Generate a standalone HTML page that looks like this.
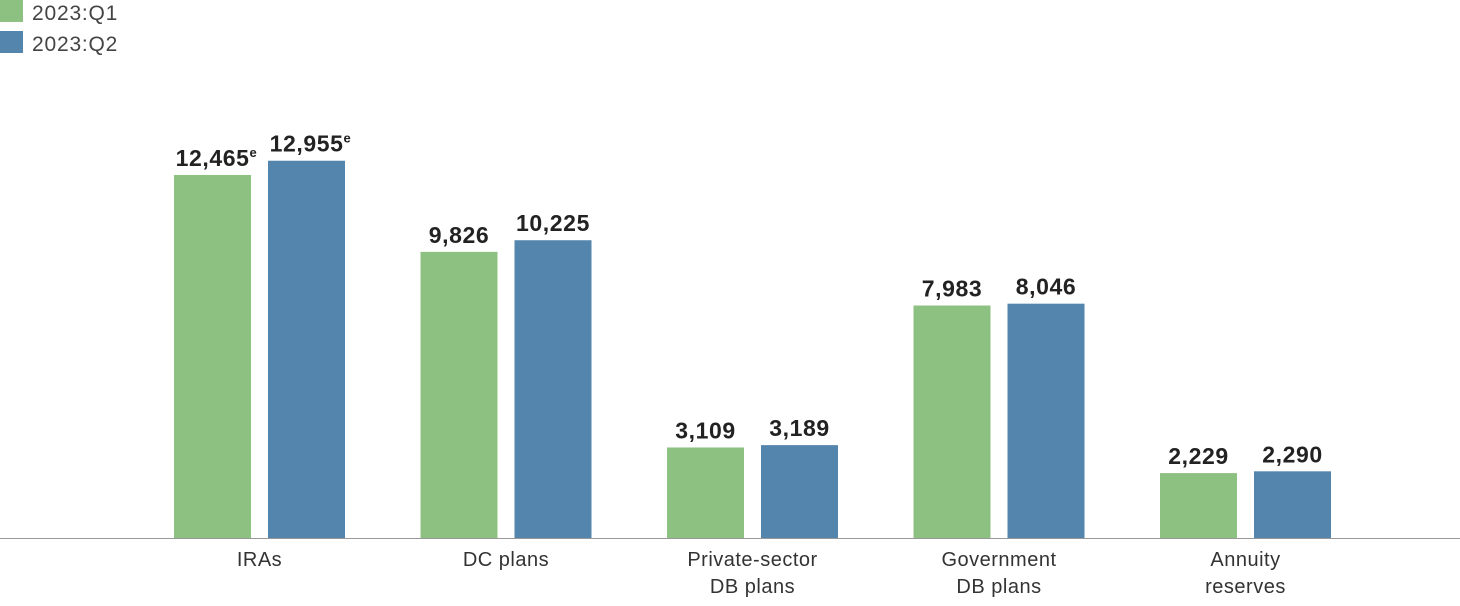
<!DOCTYPE html>
<html><head><meta charset="utf-8"><style>
body{margin:0;background:#fff;width:1460px;height:606px;overflow:hidden;font-family:"Liberation Sans",sans-serif}
svg{display:block}
</style></head><body>
<svg id="chart" width="1460" height="606" viewBox="0 0 1460 606">
<g>
<rect x="0" y="0" width="23" height="22" fill="#8dc182"/>
<text x="32" y="20" font-size="21" letter-spacing="0.8" fill="#444">2023:Q1</text>
<rect x="0" y="31" width="23" height="22" fill="#5385ad"/>
<text x="32" y="51" font-size="21" letter-spacing="0.8" fill="#444">2023:Q2</text>
</g>
<g id="bars"></g>
<line x1="0" y1="538.5" x2="1460" y2="538.5" stroke="#999" stroke-width="1"/>
<g id="labels"></g>
</svg>
<script>
const categories = [["IRAs"],["DC plans"],["Private-sector","DB plans"],["Government","DB plans"],["Annuity","reserves"]];
const q1Values = [12465, 9826, 3109, 7983, 2229];
const q2Values = [12955, 10225, 3189, 8046, 2290];
const estimated = [true, false, false, false, false];
const NS="http://www.w3.org/2000/svg";
const baseY=538, scale=363/12465, groupStart=174, groupStep=246.5, barW=77, barGap=94;
function yPos(v){return baseY - v*scale;}
function xPos(i,s){return groupStart + i*groupStep + s*barGap;}
function fmt(v){return v.toLocaleString("en-US");}
const bars=document.getElementById("bars"), labels=document.getElementById("labels");
[q1Values,q2Values].forEach((series,s)=>{
  series.forEach((v,i)=>{
    const r=document.createElementNS(NS,"rect");
    
    
    r.setAttribute("x",xPos(i,s));r.setAttribute("y",yPos(v));
    r.setAttribute("width",barW);r.setAttribute("height",baseY-yPos(v));
    r.setAttribute("fill",s?"#5385ad":"#8dc182");
    bars.appendChild(r);
    const t=document.createElementNS(NS,"text");
    
    
    t.setAttribute("x",xPos(i,s)+barW/2+(estimated[i]?4:0));t.setAttribute("y",yPos(v)-9);
    t.setAttribute("text-anchor","middle");t.setAttribute("font-size","23");
    t.setAttribute("letter-spacing","0.6");
    t.setAttribute("font-weight","bold");t.setAttribute("fill","#222");
    t.textContent=fmt(v);
    if(estimated[i]){const e=document.createElementNS(NS,"tspan");e.setAttribute("font-size","13");e.setAttribute("dy","-9");e.textContent="e";t.appendChild(e);}
    labels.appendChild(t);
  });
});
categories.forEach((c,i)=>{
  const cx=xPos(i,0)+(barGap+barW)/2;
  const t=document.createElementNS(NS,"text");
  
  
  t.setAttribute("text-anchor","middle");t.setAttribute("font-size","20");t.setAttribute("letter-spacing","0.5");t.setAttribute("fill","#333");
  c.forEach((line,k)=>{const ts=document.createElementNS(NS,"tspan");ts.setAttribute("x",cx);ts.setAttribute("y",566+k*27);ts.textContent=line;t.appendChild(ts);});
  labels.appendChild(t);
});
</script>
</body></html>
